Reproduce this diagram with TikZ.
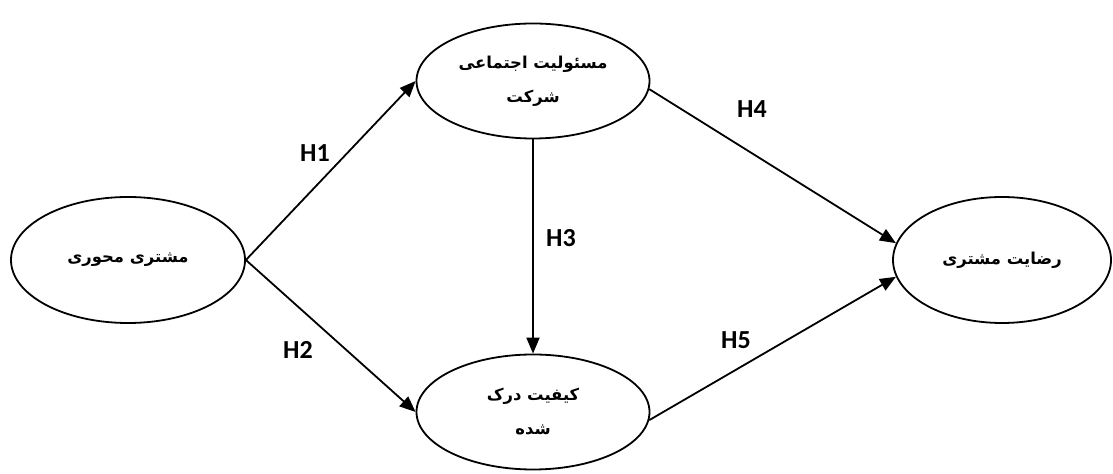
\documentclass[tikz,border=0pt]{standalone}
\usepackage{fontspec}
\setmainfont{Carlito}
\newfontfamily\farsifont[Script=Arabic]{DejaVu Sans}
\TeXXeTstate=1
\usetikzlibrary{arrows.meta,shapes.geometric}

\begin{document}
\begin{tikzpicture}[x=0.5pt,y=0.5pt]
	\tikzset{construct/.style={draw=black, line width=0.9pt, ellipse, inner sep=0pt, align=center,
		font=\farsifont\bfseries\fontsize{8.2}{17}\selectfont},
	link/.style={draw=black, line width=0.9pt, -{Triangle[length=8pt,width=6.5pt]}},
	hyp/.style={font=\bfseries\fontsize{13}{15}\selectfont}}
	\useasboundingbox (0,0) rectangle (1113,-474);
	% constructs
	\node [construct, minimum width=117pt, minimum height=63pt] (cc) at (128,-260) {\beginR مشتری محوری\endR};
	\node [construct, minimum width=116.5pt, minimum height=57.5pt] (csr) at (533,-81) {\beginR مسئولیت اجتماعی\endR\\\beginR شرکت\endR};
	\node [construct, minimum width=116.5pt, minimum height=57.5pt] (pq) at (533,-412) {\beginR کیفیت درک\endR\\\beginR شده\endR};
	\node [construct, minimum width=109pt, minimum height=63pt] (sat) at (1002,-260) {\beginR رضایت مشتری\endR};
	% hypotheses
	\draw [link] (cc.east) -- (csr.west);
	\draw [link] (cc.east) -- (pq.west);
	\draw [link] (csr.south) -- (pq.north);
	\draw [link] (csr.-4) -- (sat.171);
	\draw [link] (pq.-4) -- (sat.189);
	\node [hyp] (h1) at (315,-153) {H1};
	\node [hyp] (h2) at (298,-350) {H2};
	\node [hyp] (h3) at (561,-238) {H3};
	\node [hyp] (h4) at (752,-109) {H4};
	\node [hyp] (h5) at (736,-340) {H5};
\end{tikzpicture}
\end{document}
